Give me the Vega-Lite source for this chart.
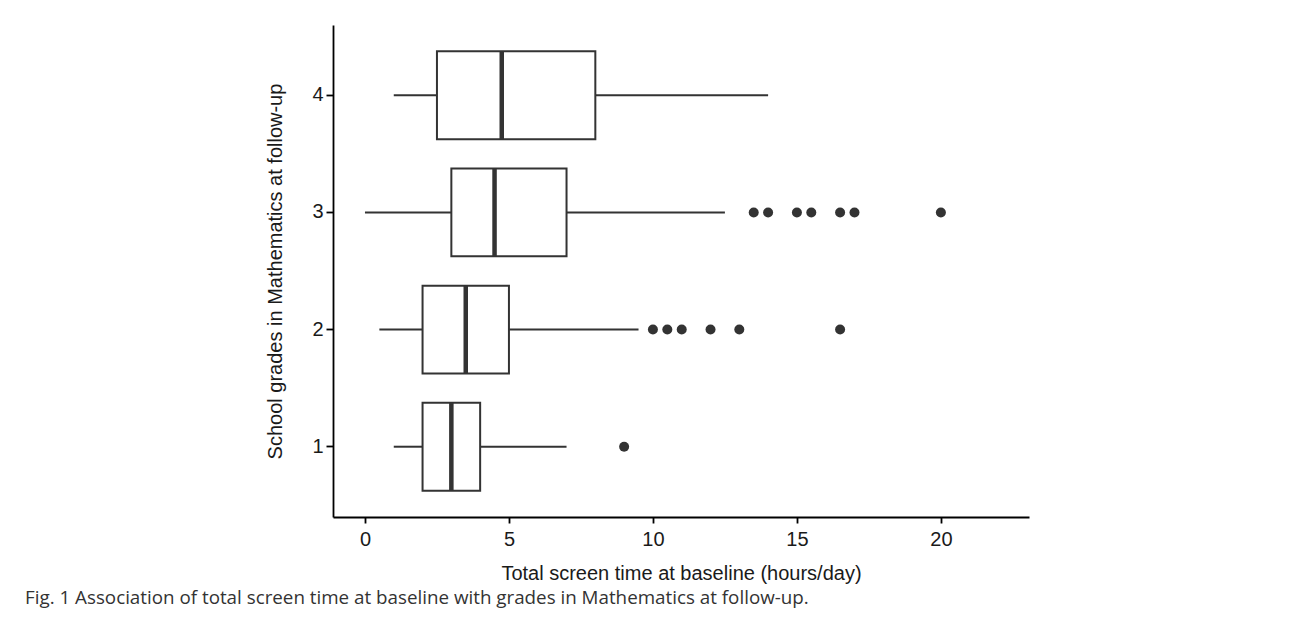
{
  "$schema": "https://vega.github.io/schema/vega-lite/v6.json",
  "width": 696,
  "height": 492,
  "autosize": {"type": "none"},
  "padding": {"left": 333, "top": 25, "right": 263, "bottom": 109},
  "background": "white",
  "title": {
    "text": "Fig. 1 Association of total screen time at baseline with grades in Mathematics at follow-up.",
    "orient": "bottom",
    "anchor": "start",
    "frame": "group",
    "dx": -308,
    "offset": 6,
    "font": "Open Sans",
    "fontSize": 18.8,
    "fontWeight": "normal",
    "color": "#333333"
  },
  "datasets": {
    "boxes": [
      {"grade": 1, "lower": 1, "q1": 2, "median": 3, "q3": 4, "upper": 7},
      {"grade": 2, "lower": 0.5, "q1": 2, "median": 3.5, "q3": 5, "upper": 9.5},
      {"grade": 3, "lower": 0, "q1": 3, "median": 4.5, "q3": 7, "upper": 12.5},
      {"grade": 4, "lower": 1, "q1": 2.5, "median": 4.75, "q3": 8, "upper": 14}
    ],
    "outliers": [
      {"grade": 1, "value": 9},
      {"grade": 2, "value": 10},
      {"grade": 2, "value": 10.5},
      {"grade": 2, "value": 11},
      {"grade": 2, "value": 12},
      {"grade": 2, "value": 13},
      {"grade": 2, "value": 16.5},
      {"grade": 3, "value": 13.5},
      {"grade": 3, "value": 14},
      {"grade": 3, "value": 15},
      {"grade": 3, "value": 15.5},
      {"grade": 3, "value": 16.5},
      {"grade": 3, "value": 17},
      {"grade": 3, "value": 20}
    ]
  },
  "encoding": {
    "y": {
      "field": "grade",
      "type": "ordinal",
      "sort": "descending",
      "title": "School grades in Mathematics at follow-up",
      "scale": {"paddingInner": 0.25, "paddingOuter": 0.225},
      "axis": {"labelAngle": 0}
    }
  },
  "layer": [
    {
      "data": {"name": "boxes"},
      "mark": {"type": "rule", "color": "#333333", "strokeWidth": 2},
      "encoding": {
        "x": {
          "field": "lower",
          "type": "quantitative",
          "title": "Total screen time at baseline (hours/day)",
          "scale": {"domain": [-1.11, 23.06], "nice": false, "zero": false},
          "axis": {"values": [0, 5, 10, 15, 20], "grid": false}
        },
        "x2": {"field": "q1"}
      }
    },
    {
      "data": {"name": "boxes"},
      "mark": {"type": "rule", "color": "#333333", "strokeWidth": 2},
      "encoding": {
        "x": {"field": "q3", "type": "quantitative"},
        "x2": {"field": "upper"}
      }
    },
    {
      "data": {"name": "boxes"},
      "mark": {"type": "bar", "fill": "white", "stroke": "#333333", "strokeWidth": 2},
      "encoding": {
        "x": {"field": "q1", "type": "quantitative"},
        "x2": {"field": "q3"}
      }
    },
    {
      "data": {"name": "boxes"},
      "mark": {"type": "tick", "color": "#333333", "thickness": 4.5, "opacity": 1},
      "encoding": {
        "x": {"field": "median", "type": "quantitative"}
      }
    },
    {
      "data": {"name": "outliers"},
      "mark": {"type": "circle", "color": "#333333", "size": 100, "opacity": 1},
      "encoding": {
        "x": {"field": "value", "type": "quantitative"}
      }
    }
  ],
  "config": {
    "view": {"stroke": null},
    "axis": {
      "labelFont": "Liberation Sans",
      "titleFont": "Liberation Sans",
      "labelFontSize": 20,
      "titleFontSize": 20,
      "titleFontWeight": "normal",
      "labelColor": "#1a1a1a",
      "titleColor": "#1a1a1a",
      "domainColor": "#000000",
      "domainWidth": 1.8,
      "tickColor": "#000000",
      "tickWidth": 1.8,
      "tickSize": 6,
      "grid": false
    },
    "axisX": {"labelPadding": 6, "titlePadding": 14},
    "axisY": {"labelPadding": 3, "titlePadding": 26, "tickSize": 7}
  }
}
